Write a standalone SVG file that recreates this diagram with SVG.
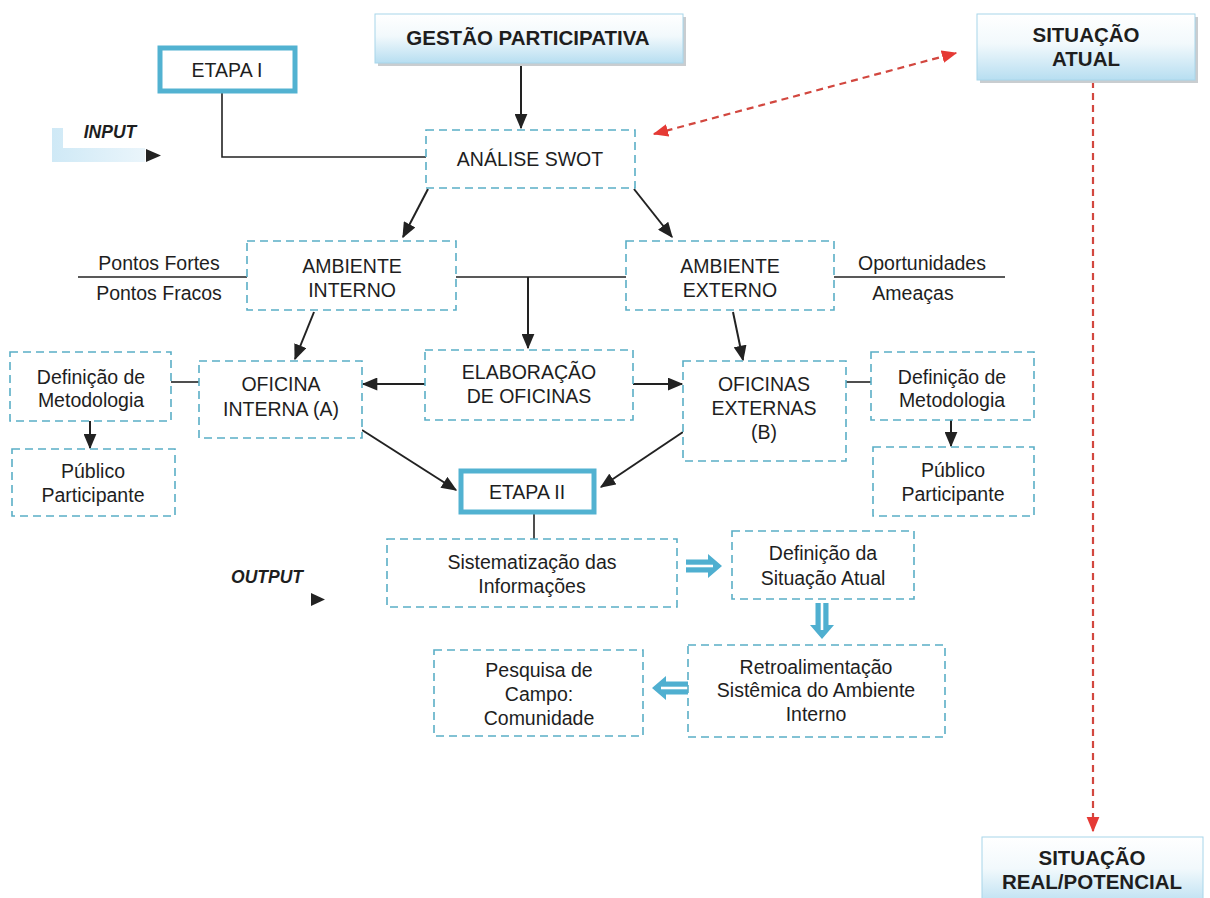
<svg xmlns="http://www.w3.org/2000/svg" width="1210" height="898" viewBox="0 0 1210 898">
<defs>
<linearGradient id="hdr" x1="0" y1="0" x2="0" y2="1">
<stop offset="0" stop-color="#ffffff"/>
<stop offset="0.45" stop-color="#f2f9fc"/>
<stop offset="1" stop-color="#b7def1"/>
</linearGradient>
<linearGradient id="inp" x1="0" y1="0" x2="1" y2="0">
<stop offset="0" stop-color="#cfe9f6"/>
<stop offset="1" stop-color="#eaf5fb"/>
</linearGradient>
<marker id="ah" viewBox="0 0 12 10" refX="11" refY="5" markerWidth="8" markerHeight="6.5" orient="auto-start-reverse" markerUnits="strokeWidth">
<path d="M0,0 L12,5 L0,10 z" fill="#222"/>
</marker>
<marker id="rh" viewBox="0 0 12 10" refX="11" refY="5" markerWidth="7" markerHeight="6" orient="auto-start-reverse" markerUnits="strokeWidth">
<path d="M0,0 L12,5 L0,10 z" fill="#e53a35"/>
</marker>
<g id="hollow">
<path d="M0,-6.5 L22,-6.5 L22,-12 L36,0 L22,12 L22,6.5 L0,6.5 z" fill="#4fafd0"/>
<path d="M0,0 L27,0" stroke="#ffffff" stroke-width="2.6"/>
</g>
</defs>
<style>
text{font-family:"Liberation Sans",Arial,sans-serif;fill:#1e1e1e;text-anchor:middle}
.t{font-size:19.5px}
.b{font-size:20.5px;font-weight:bold}
.bi{font-size:17.5px;font-weight:bold;font-style:italic}
.dash{fill:#ffffff;stroke:#5aaec6;stroke-width:1.6;stroke-dasharray:8 5}
.thick{fill:#ffffff;stroke:#52b2d1;stroke-width:5}
.hdr{fill:url(#hdr);stroke:#a8d6ea;stroke-width:1}
.shadow{fill:#c9cdd0}
.ln{stroke:#222;stroke-width:1.6;fill:none}
.ar{stroke:#222;stroke-width:2;fill:none;marker-end:url(#ah)}
.red{stroke:#d2473f;stroke-width:2.2;stroke-dasharray:7 5;fill:none}
</style>

<g id="connectors">
<line class="ar" x1="521" y1="63" x2="521" y2="128"/>
<polyline class="ln" points="222,92 222,157 426,157"/>
<line class="red" x1="654" y1="134" x2="956" y2="53" marker-start="url(#rh)" marker-end="url(#rh)"/>
<line class="red" x1="1093" y1="81" x2="1093" y2="831" marker-end="url(#rh)"/>
<line class="ar" x1="428" y1="189" x2="403" y2="237"/>
<line class="ar" x1="634" y1="189" x2="672" y2="237"/>
<line class="ln" x1="78" y1="277" x2="247" y2="277"/>
<line class="ln" x1="834" y1="277" x2="1005" y2="277"/>
<line class="ln" x1="456" y1="277" x2="626" y2="277"/>
<line class="ar" x1="528" y1="277" x2="528" y2="348"/>
<line class="ar" x1="314" y1="312" x2="295" y2="359"/>
<line class="ar" x1="733" y1="312" x2="743" y2="360"/>
<line class="ar" x1="425" y1="384" x2="363" y2="384"/>
<line class="ar" x1="633" y1="384" x2="682" y2="384"/>
<line class="ln" x1="171" y1="382" x2="199" y2="382"/>
<line class="ln" x1="846" y1="382" x2="871" y2="382"/>
<line class="ar" x1="90" y1="421" x2="90" y2="448"/>
<line class="ar" x1="951" y1="420" x2="951" y2="446"/>
<line class="ar" x1="362" y1="430" x2="456" y2="490"/>
<line class="ar" x1="683" y1="432" x2="601" y2="487"/>
<line class="ln" x1="534" y1="513" x2="534" y2="539"/>
<use href="#hollow" x="686" y="566"/>
<use href="#hollow" transform="translate(822,603) rotate(90)"/>
<use href="#hollow" transform="translate(688,688) rotate(180)"/>
</g>

<g id="input">
<path d="M52,128 L63,128 L63,148 L145,148 L145,162 L52,162 z" fill="url(#inp)"/>
<path d="M146,149 L161,155.5 L146,162 z" fill="#222"/>
<text class="bi" x="110" y="138">INPUT</text>
</g>
<g id="output">
<path d="M311,593 L325,599.5 L311,606 z" fill="#222"/>
<text class="bi" x="267" y="583">OUTPUT</text>
</g>

<g id="gestao">
<rect class="shadow" x="378" y="17" width="308" height="49"/>
<rect class="hdr" x="375" y="14" width="308" height="49"/>
<text class="b" x="528" y="45">GESTÃO PARTICIPATIVA</text>
</g>
<g id="situacao-atual">
<rect class="shadow" x="980" y="17" width="218" height="66"/>
<rect class="hdr" x="977" y="14" width="218" height="66"/>
<text class="b" x="1086" y="42">SITUAÇÃO</text>
<text class="b" x="1086" y="66">ATUAL</text>
</g>
<g id="situacao-real">
<rect class="hdr" x="982" y="837" width="221" height="70"/>
<text class="b" x="1092" y="865">SITUAÇÃO</text>
<text class="b" x="1092" y="889">REAL/POTENCIAL</text>
</g>

<g id="etapa1">
<rect class="thick" x="160" y="48" width="135" height="43"/>
<text class="t" x="227" y="77">ETAPA I</text>
</g>
<g id="swot">
<rect class="dash" x="426" y="130" width="209" height="58"/>
<text class="t" x="530" y="166">ANÁLISE SWOT</text>
</g>
<g id="amb-interno">
<rect class="dash" x="247" y="241" width="209" height="69"/>
<text class="t" x="352" y="273">AMBIENTE</text>
<text class="t" x="352" y="297">INTERNO</text>
</g>
<g id="amb-externo">
<rect class="dash" x="626" y="241" width="208" height="69"/>
<text class="t" x="730" y="273">AMBIENTE</text>
<text class="t" x="730" y="297">EXTERNO</text>
</g>
<g id="pontos">
<text class="t" x="159" y="270">Pontos Fortes</text>
<text class="t" x="159" y="300">Pontos Fracos</text>
</g>
<g id="oportunidades">
<text class="t" x="922" y="270">Oportunidades</text>
<text class="t" x="913" y="300">Ameaças</text>
</g>
<g id="elaboracao">
<rect class="dash" x="425" y="350" width="208" height="70"/>
<text class="t" x="529" y="379">ELABORAÇÃO</text>
<text class="t" x="529" y="403">DE OFICINAS</text>
</g>
<g id="oficina-interna">
<rect class="dash" x="199" y="361" width="163" height="77"/>
<text class="t" x="281" y="391">OFICINA</text>
<text class="t" x="281" y="416">INTERNA (A)</text>
</g>
<g id="oficinas-externas">
<rect class="dash" x="683" y="361" width="163" height="100"/>
<text class="t" x="764" y="391">OFICINAS</text>
<text class="t" x="764" y="415">EXTERNAS</text>
<text class="t" x="764" y="439">(B)</text>
</g>
<g id="def-met-esq">
<rect class="dash" x="10" y="352" width="161" height="69"/>
<text class="t" x="91" y="384">Definição de</text>
<text class="t" x="91" y="407">Metodologia</text>
</g>
<g id="publico-esq">
<rect class="dash" x="12" y="449" width="163" height="67"/>
<text class="t" x="93" y="478">Público</text>
<text class="t" x="93" y="502">Participante</text>
</g>
<g id="def-met-dir">
<rect class="dash" x="871" y="352" width="163" height="68"/>
<text class="t" x="952" y="384">Definição de</text>
<text class="t" x="952" y="407">Metodologia</text>
</g>
<g id="publico-dir">
<rect class="dash" x="873" y="447" width="161" height="69"/>
<text class="t" x="953" y="477">Público</text>
<text class="t" x="953" y="501">Participante</text>
</g>
<g id="etapa2">
<rect class="thick" x="461" y="471" width="133" height="41"/>
<text class="t" x="527" y="499">ETAPA II</text>
</g>
<g id="sistematizacao">
<rect class="dash" x="387" y="539" width="290" height="68"/>
<text class="t" x="532" y="569">Sistematização das</text>
<text class="t" x="532" y="593">Informações</text>
</g>
<g id="def-situacao">
<rect class="dash" x="732" y="531" width="182" height="68"/>
<text class="t" x="823" y="560">Definição da</text>
<text class="t" x="823" y="585">Situação Atual</text>
</g>
<g id="retro">
<rect class="dash" x="688" y="645" width="257" height="92"/>
<text class="t" x="816" y="674">Retroalimentação</text>
<text class="t" x="816" y="697">Sistêmica do Ambiente</text>
<text class="t" x="816" y="721">Interno</text>
</g>
<g id="pesquisa">
<rect class="dash" x="434" y="650" width="209" height="86"/>
<text class="t" x="539" y="677">Pesquisa de</text>
<text class="t" x="539" y="701">Campo:</text>
<text class="t" x="539" y="725">Comunidade</text>
</g>
</svg>
